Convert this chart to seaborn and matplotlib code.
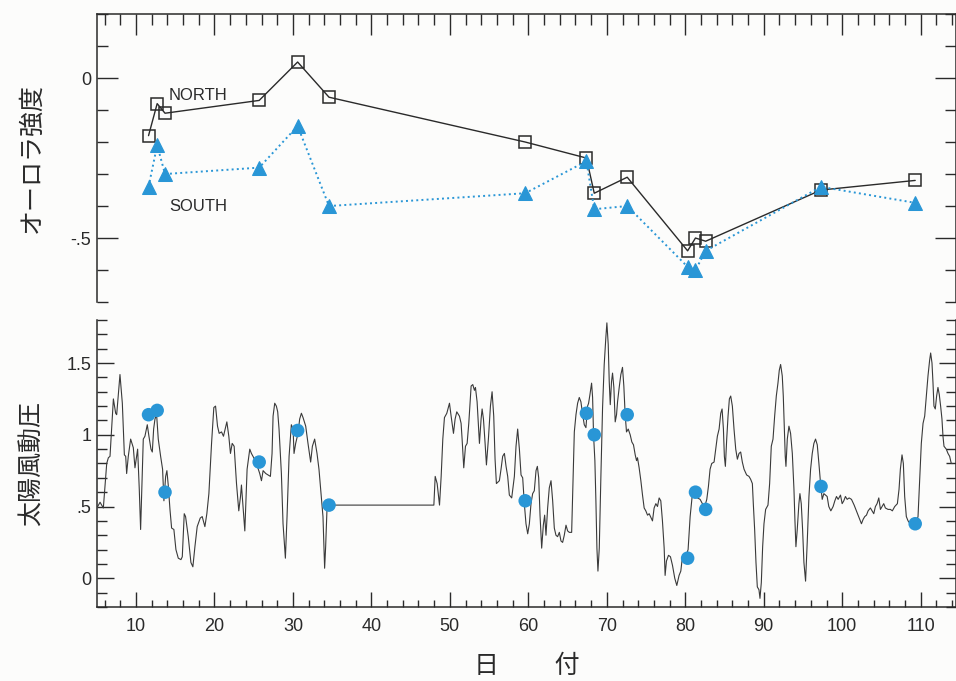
import matplotlib
matplotlib.use('Agg')
import matplotlib.pyplot as plt
from matplotlib.ticker import MultipleLocator
import seaborn as sns

# days of the auroral observations (shared by both panels)
obs_day = [11.6, 12.7, 13.7, 25.7, 30.6, 34.6, 59.6, 67.4, 68.4, 72.6,
           80.3, 81.3, 82.6, 97.3, 109.3]
north = [-0.18, -0.08, -0.11, -0.07, 0.05, -0.06, -0.20, -0.25, -0.36, -0.31,
         -0.54, -0.50, -0.51, -0.35, -0.32]
south = [-0.34, -0.21, -0.30, -0.28, -0.15, -0.40, -0.36, -0.26, -0.41, -0.40,
         -0.59, -0.60, -0.54, -0.34, -0.39]
pdyn_at_obs = [1.14, 1.17, 0.60, 0.81, 1.03, 0.51, 0.54, 1.15, 1.00, 1.14,
               0.14, 0.60, 0.48, 0.64, 0.38]

# solar wind dynamic pressure trace
pdyn_day = [
    5.12, 5.42, 5.84, 6.27, 6.48, 6.69, 7.12, 7.41, 7.54, 7.96, 8.26, 8.52, 8.69, 8.81,
    9.02, 9.32, 9.66, 9.87, 10.21, 10.42, 10.59, 10.93, 11.14, 11.44, 11.65, 11.91,
    12.08, 12.25, 12.42, 12.63, 12.84, 13.14, 13.39, 13.56, 13.78, 13.94, 14.11, 14.33,
    14.54, 14.83, 15.09, 15.39, 15.73, 15.90, 16.15, 16.32, 16.66, 17.00, 17.25, 17.51,
    17.80, 18.19, 18.44, 18.78, 19.03, 19.29, 19.63, 19.92, 20.14, 20.39, 20.60, 20.90,
    21.15, 21.41, 21.58, 21.83, 22.04, 22.26, 22.51, 22.81, 23.10, 23.32, 23.44, 23.87,
    24.16, 24.50, 24.71, 25.01, 25.35, 25.77, 25.99, 26.20, 26.54, 26.83, 27.13, 27.34,
    27.47, 27.68, 27.89, 28.06, 28.23, 28.53, 28.74, 29.04, 29.25, 29.51, 29.80, 30.02,
    30.14, 30.35, 30.65, 30.86, 31.08, 31.29, 31.63, 31.92, 32.26, 32.48, 32.77, 33.07,
    33.32, 33.62, 33.83, 34.04, 34.17, 34.34, 34.47, 47.96, 48.13, 48.38, 48.68, 48.89,
    49.10, 49.31, 49.61, 49.95, 50.16, 50.46, 50.67, 50.88, 51.22, 51.43, 51.56, 51.77,
    51.99, 52.20, 52.41, 52.71, 52.92, 53.13, 53.26, 53.47, 53.77, 53.98, 54.11, 54.28,
    54.49, 54.66, 54.91, 55.17, 55.38, 55.59, 55.76, 55.93, 56.31, 56.52, 56.73, 56.95,
    57.16, 57.37, 57.58, 57.88, 58.22, 58.43, 58.64, 58.86, 59.07, 59.28, 59.49, 59.70,
    59.92, 60.13, 60.34, 60.55, 60.76, 60.98, 61.15, 61.32, 61.49, 61.70, 61.91, 62.08,
    62.25, 62.46, 62.67, 62.89, 63.10, 63.31, 63.52, 63.73, 63.95, 64.16, 64.37, 64.58,
    64.80, 65.01, 65.22, 65.52, 65.64, 65.86, 66.07, 66.28, 66.49, 66.70, 66.92, 67.13,
    67.34, 67.55, 67.68, 67.85, 68.06, 68.19, 68.31, 68.48, 68.61, 68.74, 68.87, 69.04,
    69.25, 69.46, 69.67, 69.88, 70.01, 70.18, 70.31, 70.44, 70.60, 70.73, 70.90, 71.07,
    71.24, 71.37, 71.58, 71.79, 72.00, 72.17, 72.34, 72.51, 72.73, 72.98, 73.19, 73.40,
    73.62, 73.79, 73.91, 74.12, 74.34, 74.55, 74.76, 74.97, 75.19, 75.40, 75.65, 75.82,
    76.03, 76.25, 76.46, 76.67, 76.88, 77.09, 77.31, 77.43, 77.60, 77.86, 78.11, 78.37,
    78.66, 78.92, 79.21, 79.43, 79.64, 80.06, 80.36, 80.62, 80.91, 81.21, 81.55, 81.89,
    82.18, 82.48, 82.74, 82.95, 83.16, 83.37, 83.67, 83.88, 84.09, 84.31, 84.52, 84.69,
    84.86, 84.98, 85.11, 85.28, 85.45, 85.62, 85.79, 86.00, 86.21, 86.43, 86.64, 86.85,
    87.06, 87.27, 87.49, 87.82, 88.12, 88.33, 88.55, 88.67, 88.84, 89.01, 89.18, 89.39,
    89.52, 89.69, 89.86, 90.03, 90.24, 90.54, 90.75, 90.96, 91.18, 91.39, 91.60, 91.81,
    91.98, 92.15, 92.36, 92.49, 92.62, 92.74, 92.83, 93.00, 93.21, 93.42, 93.64, 93.85,
    93.97, 94.10, 94.27, 94.48, 94.61, 94.78, 94.95, 95.12, 95.33, 95.54, 95.76, 95.97,
    96.18, 96.39, 96.60, 96.82, 97.03, 97.24, 97.45, 97.66, 97.87, 98.08, 98.29, 98.55,
    98.84, 99.06, 99.27, 99.48, 99.78, 99.99, 100.20, 100.41, 100.63, 100.88, 101.18,
    101.52, 101.81, 102.03, 102.24, 102.45, 102.66, 102.87, 103.09, 103.30, 103.59,
    103.81, 104.02, 104.23, 104.44, 104.66, 104.87, 105.08, 105.29, 105.50, 105.84,
    106.14, 106.39, 106.69, 107.03, 107.24, 107.41, 107.62, 107.79, 107.96, 108.17,
    108.39, 108.81, 109.32, 109.66, 109.87, 110.08, 110.30, 110.51, 110.72, 110.93,
    111.14, 111.27, 111.44, 111.57, 111.69, 111.86, 112.03, 112.20, 112.37, 112.54,
    112.71, 112.84, 112.97, 113.26, 113.48, 113.69, 113.90, 114.11,
]
pdyn_val = [
    0.50, 0.53, 0.49, 0.80, 0.84, 0.85, 1.25, 1.15, 1.14, 1.42, 1.22, 0.86, 0.85, 0.73,
    0.85, 0.97, 0.91, 0.77, 0.90, 0.62, 0.34, 0.97, 0.99, 1.07, 0.99, 0.90,
    0.88, 1.04, 1.11, 1.14, 0.97, 0.85, 0.76, 0.54, 0.71, 0.75, 0.65, 0.48,
    0.35, 0.34, 0.20, 0.14, 0.13, 0.15, 0.45, 0.43, 0.29, 0.11, 0.08, 0.22,
    0.36, 0.42, 0.43, 0.36, 0.45, 0.59, 0.94, 1.19, 1.20, 1.06, 1.01, 1.02,
    0.99, 1.05, 1.09, 0.99, 0.87, 0.94, 0.92, 0.66, 0.47, 0.57, 0.65, 0.33,
    0.76, 0.90, 0.87, 0.84, 0.80, 0.73, 0.68, 0.75, 0.73, 0.72, 0.71, 0.87,
    1.13, 1.22, 1.20, 1.16, 1.04, 0.73, 0.38, 0.14, 0.43, 0.85, 1.07, 1.04,
    0.87, 0.94, 1.01, 1.11, 1.15, 1.12, 1.06, 0.94, 0.81, 0.92, 0.97, 0.87,
    0.76, 0.57, 0.43, 0.07, 0.22, 0.48, 0.51, 0.51, 0.71, 0.66, 0.51, 0.71,
    0.97, 1.12, 1.15, 1.22, 1.13, 1.01, 1.11, 1.16, 1.13, 1.08, 0.97, 0.77,
    0.92, 0.94, 1.08, 1.34, 1.35, 1.31, 1.33, 1.23, 0.94, 1.11, 1.18, 1.11,
    0.94, 0.79, 0.97, 1.20, 1.30, 1.13, 0.83, 0.66, 0.68, 0.76, 0.85, 0.87,
    0.78, 0.71, 0.58, 0.56, 0.71, 0.92, 1.04, 0.90, 0.72, 0.70, 0.52, 0.38,
    0.31, 0.38, 0.52, 0.59, 0.61, 0.75, 0.78, 0.70, 0.44, 0.21, 0.37, 0.44,
    0.30, 0.49, 0.63, 0.68, 0.54, 0.35, 0.30, 0.29, 0.32, 0.26, 0.25, 0.30,
    0.37, 0.33, 0.32, 0.32, 0.56, 1.02, 1.14, 1.22, 1.26, 1.23, 1.14, 1.07,
    1.05, 1.20, 1.22, 1.28, 1.36, 1.26, 1.00, 0.82, 0.54, 0.21, 0.05, 0.21,
    0.72, 1.19, 1.49, 1.68, 1.78, 1.63, 1.37, 1.21, 1.37, 1.43, 1.33, 1.09,
    1.14, 1.23, 1.33, 1.42, 1.47, 1.34, 1.14, 1.02, 1.04, 1.00, 0.95, 0.93,
    0.86, 0.82, 0.84, 0.77, 0.68, 0.58, 0.49, 0.47, 0.44, 0.45, 0.42, 0.40,
    0.49, 0.52, 0.50, 0.56, 0.54, 0.40, 0.21, 0.02, 0.12, 0.16, 0.15, 0.09,
    0.00, -0.05, 0.02, 0.05, 0.15, 0.15, 0.20, 0.43, 0.59, 0.58, 0.56, 0.55,
    0.52, 0.50, 0.55, 0.64, 0.76, 0.80, 0.81, 0.90, 0.99, 1.04, 1.15, 1.18,
    1.04, 0.85, 0.78, 0.97, 1.13, 1.25, 1.27, 1.20, 1.04, 0.90, 0.83, 0.87,
    0.88, 0.81, 0.76, 0.72, 0.71, 0.69, 0.66, 0.52, 0.34, 0.11, -0.06, -0.08,
    -0.14, -0.03, 0.22, 0.38, 0.48, 0.51, 0.66, 0.92, 0.97, 1.13, 1.27, 1.36,
    1.45, 1.49, 1.41, 1.27, 1.04, 0.85, 0.78, 0.97, 1.06, 1.01, 0.87, 0.62,
    0.41, 0.22, 0.34, 0.52, 0.59, 0.52, 0.34, 0.11, -0.02, 0.25, 0.57, 0.76,
    0.87, 0.94, 0.97, 0.93, 0.80, 0.66, 0.55, 0.59, 0.58, 0.57, 0.50, 0.47,
    0.50, 0.54, 0.57, 0.55, 0.58, 0.52, 0.54, 0.57, 0.55, 0.56, 0.55,
    0.51, 0.47, 0.44, 0.41, 0.38, 0.41, 0.43, 0.44, 0.47, 0.49,
    0.47, 0.45, 0.50, 0.52, 0.56, 0.48, 0.50, 0.52, 0.49, 0.48,
    0.48, 0.47, 0.50, 0.52, 0.62, 0.76, 0.86, 0.80, 0.57, 0.43,
    0.40, 0.37, 0.37, 0.43, 0.69, 0.94, 1.08, 1.13, 1.27, 1.41,
    1.52, 1.57, 1.50, 1.36, 1.20, 1.18, 1.27, 1.33, 1.28, 1.20,
    1.11, 0.99, 0.92, 0.90, 0.87, 0.85, 0.80, 0.80,
]

blue = '#2996d6'
ink = '#2a2a2a'

sns.set_style('ticks')
plt.rcParams['font.family'] = ['Liberation Sans', 'Noto Sans CJK JP']
plt.rcParams['axes.edgecolor'] = ink
plt.rcParams['xtick.color'] = ink
plt.rcParams['ytick.color'] = ink

fig = plt.figure(figsize=(9.56, 6.81), dpi=100)
fig.patch.set_facecolor('#fcfcfb')
ax1 = fig.add_axes([0.1012, 0.5565, 0.8988, 0.4229])
ax2 = fig.add_axes([0.1012, 0.1087, 0.8988, 0.4214])
for ax in (ax1, ax2):
    ax.set_facecolor('none')

# --- top panel: aurora intensity
sns.lineplot(x=obs_day, y=north, ax=ax1, estimator=None, color=ink, lw=1.0,
             marker='s', markersize=8.5, mfc='none', mec=ink, mew=1.1)
sns.lineplot(x=obs_day, y=south, ax=ax1, estimator=None, color=blue, lw=1.4,
             linestyle=':', marker='^', markersize=10, mfc=blue, mec=blue)
ax1.text(14.2, -0.054, 'NORTH', fontsize=12, va='center', color=ink)
ax1.text(14.2, -0.402, 'SOUTH', fontsize=12, va='center', color=ink)

ax1.set_xlim(5, 114.5)
ax1.set_ylim(-0.7, 0.2)
ax1.set_yticks([0, -0.5], labels=['0', '-.5'])
ax1.yaxis.set_minor_locator(MultipleLocator(0.1))
ax1.xaxis.set_major_locator(MultipleLocator(10))
ax1.xaxis.set_minor_locator(MultipleLocator(2))
ax1.xaxis.set_ticks_position('top')
ax1.tick_params(axis='x', which='both', direction='in', top=True, bottom=False,
                labeltop=False, labelbottom=False)
ax1.tick_params(axis='x', which='major', length=15, width=1.0)
ax1.tick_params(axis='x', which='minor', length=8, width=1.0)
ax1.tick_params(axis='y', which='both', direction='in', left=True, right=True,
                labelsize=13, pad=4)
ax1.tick_params(axis='y', which='major', length=15, width=1.0)
ax1.tick_params(axis='y', which='minor', length=8, width=1.0)
ax1.spines['bottom'].set_visible(False)
ax1.set_xlabel('')
ax1.set_ylabel('オーロラ強度', fontsize=18, family=['Noto Sans CJK JP'], color=ink)
ax1.yaxis.set_label_coords(-0.061, 0.5)

# --- bottom panel: solar wind dynamic pressure
sns.lineplot(x=pdyn_day, y=pdyn_val, ax=ax2, estimator=None, sort=False,
             color='#3a3a3a', lw=0.8)
sns.scatterplot(x=obs_day, y=pdyn_at_obs, ax=ax2, color=blue, s=95,
                edgecolor='none', zorder=3)

ax2.set_xlim(5, 114.5)
ax2.set_ylim(-0.2, 1.8)
ax2.set_yticks([0, 0.5, 1, 1.5], labels=['0', '.5', '1', '1.5'])
ax2.yaxis.set_minor_locator(MultipleLocator(0.1))
ax2.set_xticks(range(10, 111, 10))
ax2.xaxis.set_minor_locator(MultipleLocator(2))
ax2.tick_params(axis='x', which='both', direction='in', labelsize=13, pad=8)
ax2.tick_params(axis='x', which='major', length=11, width=1.0)
ax2.tick_params(axis='x', which='minor', length=5, width=1.0)
ax2.tick_params(axis='y', which='both', direction='in', left=True, right=True,
                labelsize=13, pad=4)
ax2.tick_params(axis='y', which='major', length=12, width=1.0)
ax2.tick_params(axis='y', which='minor', length=7, width=1.0)
ax2.spines['top'].set_visible(False)
ax2.set_ylabel('太陽風動圧', fontsize=18, family=['Noto Sans CJK JP'], color=ink)
ax2.yaxis.set_label_coords(-0.061, 0.5)
ax2.set_xlabel('日\u3000\u3000 付', fontsize=18, family=['Noto Sans CJK JP'], color=ink)
ax2.xaxis.set_label_coords(0.5, -0.160)

for ax in (ax1, ax2):
    for s in ax.spines.values():
        s.set_linewidth(1.1)

fig.savefig('out.png', dpi=100, facecolor=fig.get_facecolor())
